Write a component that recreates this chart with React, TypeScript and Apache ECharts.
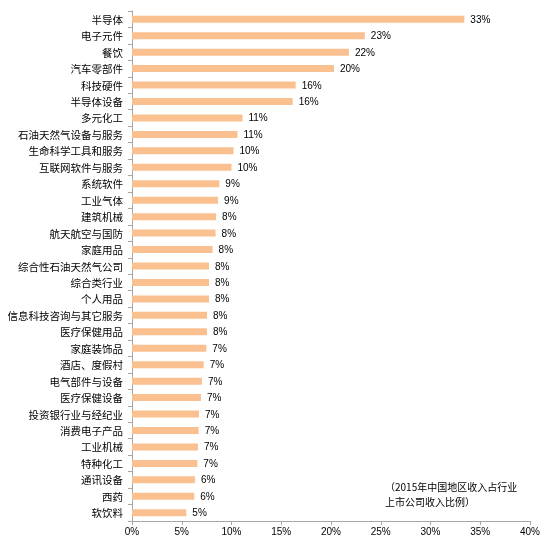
import { useEffect, useRef } from 'react';
import * as echarts from 'echarts';

const categories = [
  '半导体', '电子元件', '餐饮', '汽车零部件', '科技硬件', '半导体设备', '多元化工',
  '石油天然气设备与服务', '生命科学工具和服务', '互联网软件与服务', '系统软件', '工业气体',
  '建筑机械', '航天航空与国防', '家庭用品', '综合性石油天然气公司', '综合类行业', '个人用品',
  '信息科技咨询与其它服务', '医疗保健用品', '家庭装饰品', '酒店、度假村', '电气部件与设备',
  '医疗保健设备', '投资银行业与经纪业', '消费电子产品', '工业机械', '特种化工', '通讯设备',
  '西药', '软饮料',
];

const shares = [
  33.4, 23.4, 21.8, 20.3, 16.45, 16.15, 11.1,
  10.6, 10.2, 10.0, 8.78, 8.65,
  8.45, 8.4, 8.1, 7.74, 7.74, 7.74,
  7.54, 7.54, 7.47, 7.2, 7.03,
  6.93, 6.73, 6.7, 6.63, 6.57, 6.33,
  6.26, 5.46,
];

const noteLines = ['（2015年中国地区收入占行业', '上市公司收入比例）'];

const CJK = '"Noto Sans CJK SC", sans-serif';
const LATIN = 'Arial, "Liberation Sans", sans-serif';

export default function App() {
  const chartRef = useRef<HTMLDivElement>(null);

  useEffect(() => {
    if (!chartRef.current) return;
    const instance = echarts.init(chartRef.current, undefined, { renderer: 'svg' });

    instance.setOption({
      animation: false,
      grid: { left: 132, right: 20, top: 11, bottom: 22 },
      xAxis: {
        type: 'value',
        min: 0,
        max: 40,
        interval: 5,
        axisLine: { show: true, lineStyle: { color: '#A6A6A6' } },
        axisTick: { show: true, length: 4, lineStyle: { color: '#A6A6A6' } },
        splitLine: { show: false },
        axisLabel: {
          formatter: '{value}%',
          color: '#000',
          fontSize: 10,
          fontFamily: LATIN,
          margin: 5,
        },
      },
      yAxis: {
        type: 'category',
        data: categories,
        inverse: true,
        axisLine: { show: true, lineStyle: { color: '#A6A6A6' } },
        axisTick: { show: true, length: 4, lineStyle: { color: '#A6A6A6' } },
        axisLabel: {
          color: '#000',
          fontSize: 10.5,
          fontFamily: CJK,
          margin: 9,
        },
      },
      series: [
        {
          type: 'bar',
          data: shares,
          barWidth: 7,
          itemStyle: { color: '#FAC090' },
          label: {
            show: true,
            position: 'right',
            distance: 6,
            color: '#000',
            fontSize: 10,
            fontFamily: LATIN,
            formatter: (p: { value: number }) => `${Math.round(p.value)}%`,
          },
        },
      ],
      graphic: noteLines.map((line, i) => ({
        type: 'text',
        left: 385,
        top: 481 + i * 15,
        style: {
          text: line,
          fontSize: 10,
          fontFamily: CJK,
          fill: '#000',
        },
      })),
    });

    return () => {
      instance.dispose();
    };
  }, []);

  return (
    <div
      ref={chartRef}
      style={{ position: 'fixed', left: 0, top: 0, width: 550, height: 543 }}
    />
  );
}
